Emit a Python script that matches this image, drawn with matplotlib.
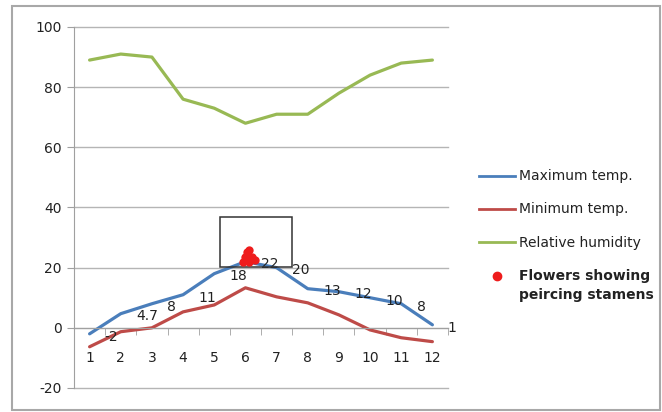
import matplotlib.pyplot as plt, numpy as np
from matplotlib.patches import Rectangle
from matplotlib.lines import Line2D

months   = list(range(1, 13))
max_temp = [-2, 4.7, 8, 11, 18, 22, 20, 13, 12, 10, 8, 1]
min_temp = [-6.3, -1.3, 0, 5.3, 7.6, 13.3, 10.3, 8.3, 4.3, -0.7, -3.3, -4.6]
humidity = [89, 91, 90, 76, 73, 68, 71, 71, 78, 84, 88, 89]

# flowers with piercing stamens, clustered around June
flower_x = [5.92, 6.1, 6.3, 6.0, 6.2, 6.05, 6.1]
flower_y = [22, 22, 22.4, 23.5, 23.5, 25.2, 26]

# box drawn round the flowering window
box_x = (5.18, 7.49)
box_y = (20.3, 36.9)

c_max, c_min, c_rh = '#4a7ebb', '#be4b48', '#98b954'
grid_c = '#b5b5b5'

plt.rcParams['font.family'] = 'DejaVu Sans'
plt.rcParams['axes.unicode_minus'] = False
fig = plt.figure(figsize=(6.62, 4.12), dpi=100)
ax = fig.add_axes([0.1118, 0.0583, 0.5649, 0.8762])

ax.plot(months, max_temp, color=c_max, lw=2.3, label='Maximum temp.', solid_capstyle='round')
ax.plot(months, min_temp, color=c_min, lw=2.3, label='Minimum temp.', solid_capstyle='round')
ax.plot(months, humidity, color=c_rh, lw=2.3, label='Relative humidity', solid_capstyle='round')
ax.plot(flower_x, flower_y, 'o', color='#ee1c1c', ms=6, mew=0, zorder=5)

for m, v in zip(months, max_temp):
    ax.annotate(f'{v:g}', (m, v), xytext=(11, -2), textcoords='offset points',
                ha='left', va='center', fontsize=10, color='#222222')

ax.add_patch(Rectangle((box_x[0], box_y[0]), box_x[1] - box_x[0], box_y[1] - box_y[0],
                       fill=False, ec='#333333', lw=1.1, zorder=4))

ax.set_xlim(0.5, 12.5)
ax.set_ylim(-20, 100)
ax.set_yticks(range(-20, 101, 20))
ax.set_xticks(months)
ax.set_xticks(np.arange(0.5, 13, 1), minor=True)
ax.tick_params(axis='x', which='major', length=0, pad=17, labelsize=10, colors='#222222')
ax.tick_params(axis='x', which='minor', length=5, direction='out', color='#a0a0a0')
ax.tick_params(axis='y', length=5, color='#a0a0a0', labelsize=10, labelcolor='#222222', pad=4)

for s in ['top', 'right']:
    ax.spines[s].set_visible(False)
ax.spines['bottom'].set_position(('data', 0))
ax.spines['bottom'].set_color('#a0a0a0')
ax.spines['left'].set_color('#a0a0a0')
ax.yaxis.grid(True, color=grid_c, lw=1)
for gl in ax.yaxis.get_gridlines():
    gl.set_clip_on(False)
ax.set_axisbelow(True)

handles = [Line2D([], [], color=c_max, lw=2),
           Line2D([], [], color=c_min, lw=2),
           Line2D([], [], color=c_rh, lw=2),
           Line2D([], [], ls='', marker='o', color='#ee1c1c', ms=6)]
labels = ['Maximum temp.', 'Minimum temp.', 'Relative humidity',
          'Flowers showing\npeircing stamens']
leg = fig.legend(handles, labels, loc='upper left', bbox_to_anchor=(0.705, 0.619),
                 frameon=False, fontsize=10, handlelength=2.6, handletextpad=0.3,
                 labelspacing=1.37)
for t in leg.get_texts():
    t.set_color('#222222')
leg.get_texts()[3].set_fontweight('bold')
leg.get_texts()[3].set_linespacing(1.5)
# lift the flower marker up to the first line of its two-line label
dot = leg.legend_handles[3]
dot.set_ydata([y + 7.5 for y in dot.get_ydata()])

fig.patches.append(Rectangle((12 / 662, 2 / 412), 648 / 662, 404 / 412, transform=fig.transFigure,
                             fill=False, ec='#a8a8a8', lw=1.5))

fig.savefig('out.png', dpi=100)
